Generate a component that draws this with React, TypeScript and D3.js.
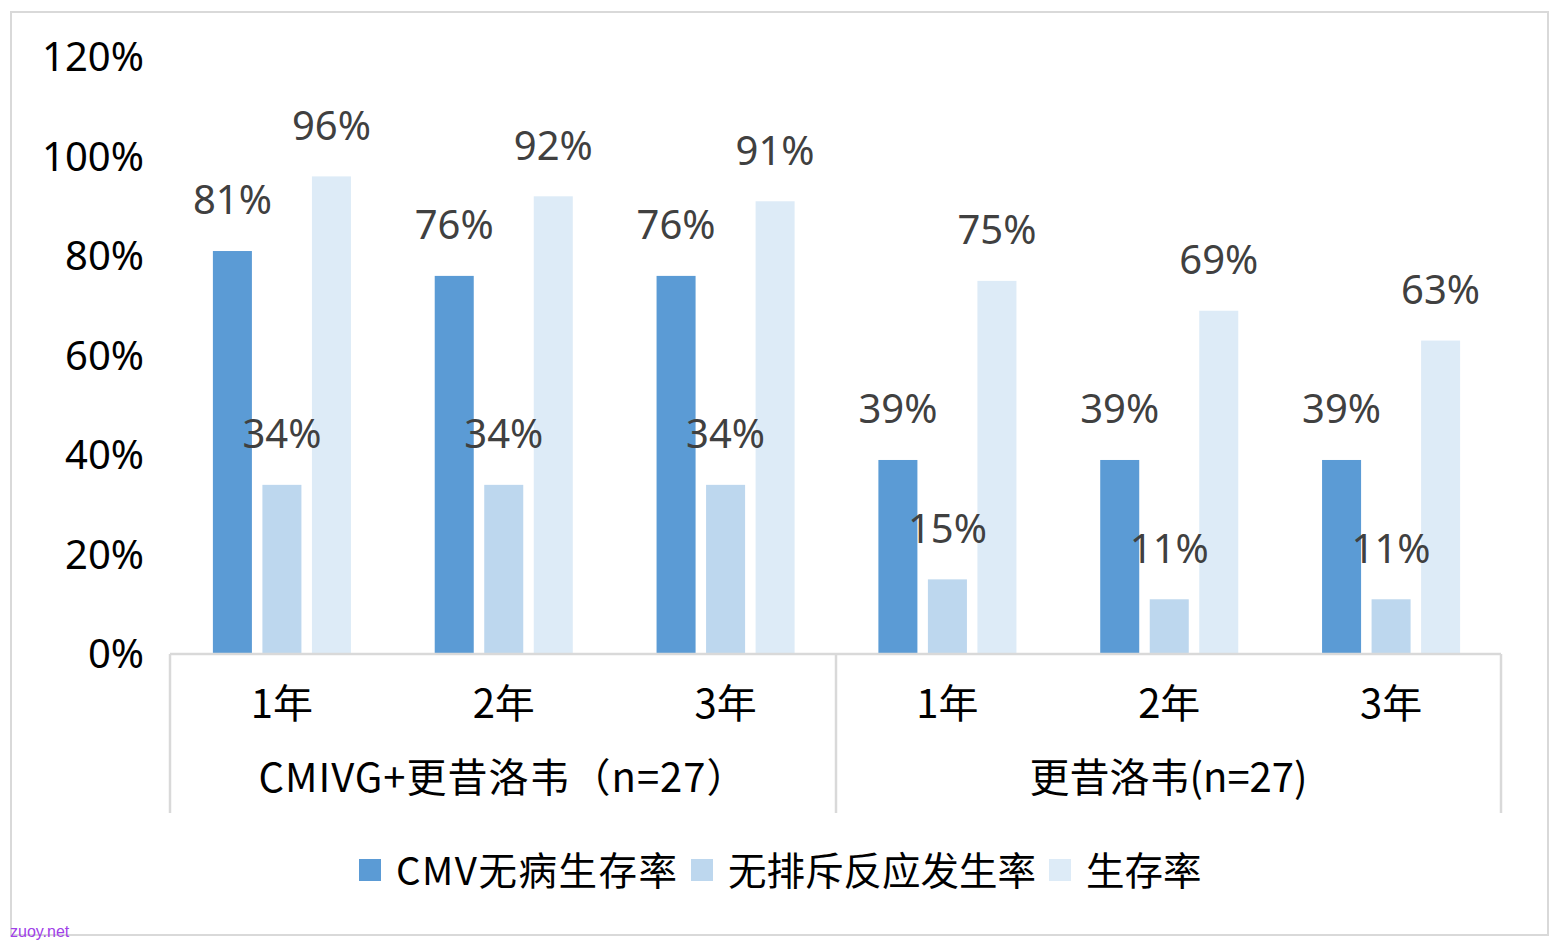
import React from "react";
import * as d3 from "d3";

const categories = ["1年", "2年", "3年", "1年", "2年", "3年"];
const groups = ["CMIVG+更昔洛韦（n=27）", "更昔洛韦(n=27)"];
const seriesNames = ["CMV无病生存率", "无排斥反应发生率", "生存率"];
const cmvFree = [81, 76, 76, 39, 39, 39];
const noRejection = [34, 34, 34, 15, 11, 11];
const survival = [96, 92, 91, 75, 69, 63];
const yTicks = [0, 20, 40, 60, 80, 100, 120];
const colors = ["#5B9BD5", "#BDD7EE", "#DDEBF7"];

const W = 1560;
const H = 948;
const FONT = "'Segoe UI', 'Noto Sans', 'Noto Sans CJK SC', sans-serif";
const CJK = "'Noto Sans CJK SC', 'Noto Sans', sans-serif";
const FS = 40;

export default function App() {
  const series = [cmvFree, noRejection, survival];
  const x0 = d3.scaleBand<number>().domain(d3.range(categories.length)).range([171, 1502]).padding(0);
  const x1 = d3
    .scaleBand<number>()
    .domain([0, 1, 2])
    .range([0, x0.bandwidth()])
    .paddingInner(0.212)
    .paddingOuter(0.846);
  const y = d3.scaleLinear().domain([0, 120]).range([654, 57]);
  const gridColor = "#d9d9d9";
  const groupBounds = [170, 836, 1501];

  return (
    <div style={{ position: "fixed", left: 0, top: 0 }}>
      <svg width={W} height={H} style={{ display: "block", background: "#fff" }}>
        <rect x={11} y={12} width={1537} height={923} fill="#fff" stroke={gridColor} strokeWidth={2} />
        {yTicks.map((t) => (
          <text key={t} x={144} y={y(t)} dy="0.36em" textAnchor="end" fontFamily={FONT} fontSize={FS} fill="#000">
            {t + "%"}
          </text>
        ))}
        {series.map((vals, si) =>
          vals.map((v, ci) => {
            const bx = (x0(ci) as number) + (x1(si) as number);
            return (
              <rect key={`b${si}-${ci}`} x={bx} y={y(v)} width={x1.bandwidth()} height={y(0) - y(v)} fill={colors[si]} />
            );
          })
        )}
        <line x1={170} x2={1501} y1={654} y2={654} stroke={gridColor} strokeWidth={2.5} />
        {groupBounds.map((gx, i) => (
          <line key={`v${i}`} x1={gx} x2={gx} y1={654} y2={813} stroke={gridColor} strokeWidth={2.5} />
        ))}
        {series.map((vals, si) =>
          vals.map((v, ci) => {
            const cx = (x0(ci) as number) + (x1(si) as number) + x1.bandwidth() / 2;
            return (
              <text
                key={`l${si}-${ci}`}
                x={cx}
                y={y(v) - 51}
                dy="0.36em"
                textAnchor="middle"
                fontFamily={FONT}
                fontSize={FS}
                fill="#404040"
              >
                {v + "%"}
              </text>
            );
          })
        )}
        {categories.map((c, ci) => (
          <text
            key={`c${ci}`}
            x={(x0(ci) as number) + x0.bandwidth() / 2}
            y={704}
            dy="0.36em"
            textAnchor="middle"
            fontFamily={CJK}
            fontSize={FS}
            fill="#000"
          >
            {c}
          </text>
        ))}
        {groups.map((g, gi) => (
          <text
            key={`g${gi}`}
            x={(groupBounds[gi] + groupBounds[gi + 1]) / 2}
            y={778}
            dy="0.36em"
            textAnchor="middle"
            fontFamily={CJK}
            fontSize={FS}
            letterSpacing={gi === 0 ? 1 : 0}
            fill="#000"
          >
            {g}
          </text>
        ))}
        {seriesNames.map((n, si) => {
          const lx = [359, 691, 1049][si];
          return (
            <g key={`lg${si}`}>
              <rect x={lx} y={859} width={22} height={22} fill={colors[si]} />
              <text
                x={lx + 37}
                y={871}
                dy="0.36em"
                fontFamily={CJK}
                fontSize={38.5}
                letterSpacing={si === 0 ? 1.5 : 0}
                fill="#000"
              >
                {n}
              </text>
            </g>
          );
        })}
        <text x={10} y={937} fontFamily="'Liberation Sans', Arial, sans-serif" fontSize={16} fill="#a040e8">
          zuoy.net
        </text>
      </svg>
    </div>
  );
}
